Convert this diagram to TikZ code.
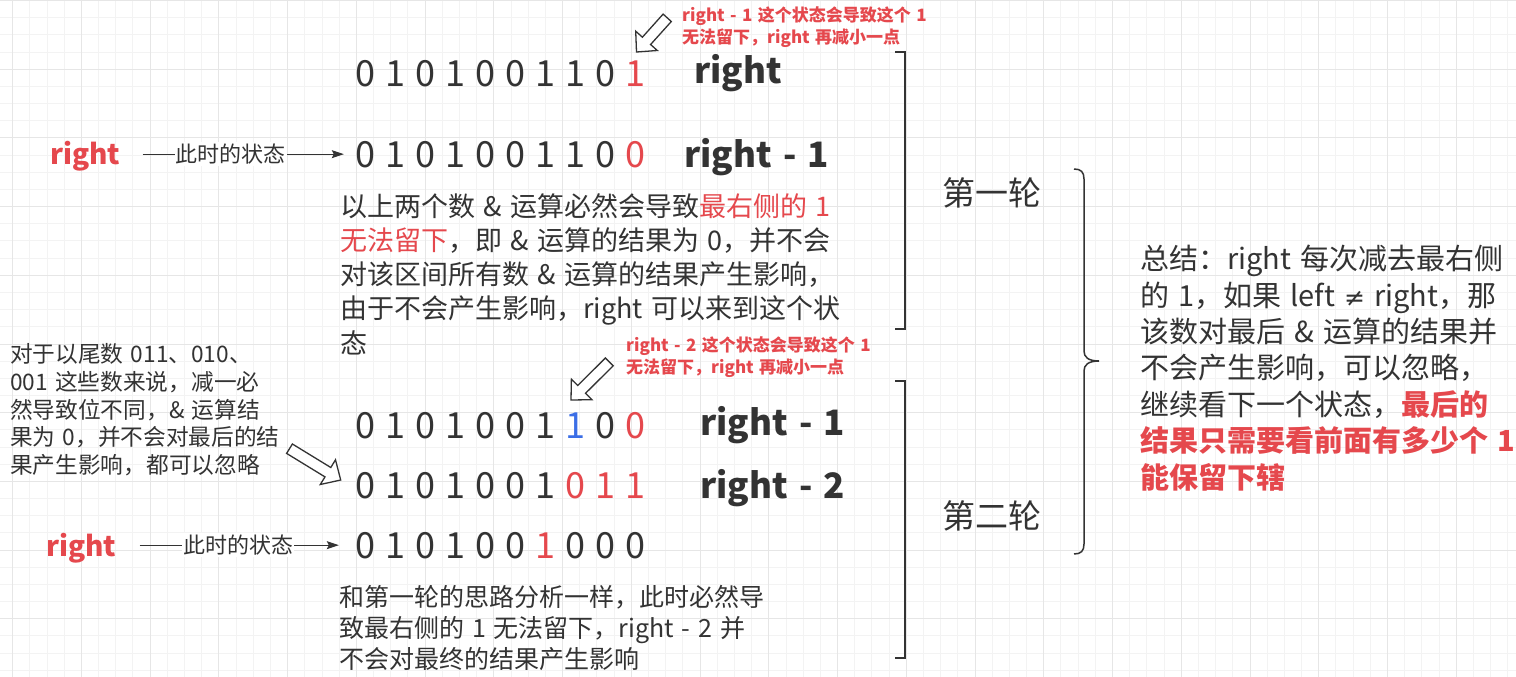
\documentclass[tikz,border=0pt]{standalone}
\usepackage{fontspec}
\setmainfont{Noto Sans CJK SC}[WordSpace=1.4]
\newfontfamily\symfont{DejaVu Sans}
\usepackage{xcolor}
\usetikzlibrary{arrows.meta}

\definecolor{ink}{HTML}{333333}
\definecolor{redtxt}{HTML}{E5484D}
\definecolor{bluetxt}{HTML}{3B6EE6}
\definecolor{gridminor}{HTML}{F3F3F3}
\definecolor{gridmajor}{HTML}{E6E6E6}

\begin{document}
\begin{tikzpicture}[x=1pt, y=-1pt, inner sep=0pt, text=ink,
	bit/.style={anchor=base, font=\fontsize{36}{40}\selectfont},
	tag/.style={anchor=base west, font=\fontsize{35}{40}\selectfont\bfseries},
	redtag/.style={anchor=base west, text=redtxt, font=\fontsize{28}{32}\selectfont\bfseries},
	hint/.style={anchor=north west, align=left, text=redtxt, font=\fontsize{17}{21.3}\selectfont\bfseries},
	note/.style={anchor=north west, align=left},
	lun/.style={anchor=north west, font=\fontsize{33}{38}\selectfont},
	statearrow/.style={draw=ink, line width=1.2pt, -{Stealth[length=12pt, width=8pt, inset=2pt]}},
	statelabel/.style={fill=white, inner ysep=2pt, inner xsep=1pt, font=\fontsize{22}{26}\selectfont},
	hollow/.style={draw=ink, line width=1.3pt, fill=white, line join=miter},
	bracket/.style={draw=ink, line width=1.5pt},
	minorline/.style={draw=gridminor, line width=1pt},
	majorline/.style={draw=gridmajor, line width=1pt}]
	
	\useasboundingbox[fill=white] (0,0) rectangle (1516,677);
	
	% grid
	\foreach \i in {0,...,88} \draw[minorline] ({-4.49+17.185*\i},0) -- ++(0,677);
	\foreach \j in {0,...,39} \draw[minorline] (0,{0.5+17.175*\j}) -- ++(1516,0);
	\foreach \i in {0,...,21} \draw[majorline] ({12.7+68.74*\i},0) -- ++(0,677);
	\foreach \j in {0,...,9} \draw[majorline] (0,{0.5+68.7*\j}) -- ++(1516,0);
	
	% first round
	\foreach \d/\c [count=\i] in {0/ink,1/ink,0/ink,1/ink,0/ink,0/ink,1/ink,1/ink,0/ink,1/redtxt}
		\node[bit, text=\c] (r1-\i) at ({335+30*\i},87) {\d};
	\foreach \d/\c [count=\i] in {0/ink,1/ink,0/ink,1/ink,0/ink,0/ink,1/ink,1/ink,0/ink,0/redtxt}
		\node[bit, text=\c] (r2-\i) at ({335+30*\i},167) {\d};
	
	\node[tag] (tag1) at (694,84) {right};
	\node[tag] (tag2) at (684,167) {right - 1};
	
	\node[hint] (hint1) at (682,7) {right - 1 这个状态会导致这个 1\\无法留下，right 再减小一点};
	\draw[hollow] (636.5,52) -- (657.3,50.5) -- (650.6,44.5) -- (671.3,21.5) -- (663.1,14.1) -- (642.4,37.2) -- (635.7,31.2) -- cycle;
	
	\node[redtag] (righta) at (50,164) {right};
	\draw[statearrow, shorten <=22pt, shorten >=11pt] (righta.east |- r2-1.west) -- node[statelabel, pos=0.47] (statea) {此时的状态} (r2-1.west);
	
	\node[note, font=\fontsize{27}{34.3}\selectfont] (note1) at (340,193) {以上两个数 \& 运算必然会导致\textcolor{redtxt}{最右侧的 1}\\\textcolor{redtxt}{无法留下}，即 \& 运算的结果为 0，并不会\\对该区间所有数 \& 运算的结果产生影响，\\由于不会产生影响，right 可以来到这个状\\态};
	
	% second round
	\foreach \d/\c [count=\i] in {0/ink,1/ink,0/ink,1/ink,0/ink,0/ink,1/ink,1/bluetxt,0/ink,0/redtxt}
		\node[bit, text=\c] (r3-\i) at ({335+30*\i},438) {\d};
	\foreach \d/\c [count=\i] in {0/ink,1/ink,0/ink,1/ink,0/ink,0/ink,1/ink,0/redtxt,1/redtxt,1/redtxt}
		\node[bit, text=\c] (r4-\i) at ({335+30*\i},498) {\d};
	\foreach \d/\c [count=\i] in {0/ink,1/ink,0/ink,1/ink,0/ink,0/ink,1/redtxt,0/ink,0/ink,0/ink}
		\node[bit, text=\c] (r5-\i) at ({335+30*\i},558) {\d};
	
	\node[tag] (tag3) at (700,435) {right - 1};
	\node[tag] (tag4) at (700,498) {right - 2};
	
	\node[hint] (hint2) at (626,337) {right - 2 这个状态会导致这个 1\\无法留下，right 再减小一点};
	\draw[hollow] (571,400) -- (591.9,399.7) -- (585.5,393.3) -- (613.2,365.8) -- (605.4,358.0) -- (577.7,385.5) -- (571.4,379.1) -- cycle;
	
	\node[note, font=\fontsize{22.7}{27.9}\selectfont] (note2) at (10,343) {对于以尾数 011、010、\\001 这些数来说，减一必\\然导致位不同，\& 运算结\\果为 0，并不会对最后的结\\果产生影响，都可以忽略};
	\draw[hollow] (340.7,480) -- (320.3,484.5) -- (325.0,476.9) -- (286.6,453.4) -- (292.4,444.0) -- (330.8,467.5) -- (335.5,459.8) -- cycle;
	
	\node[redtag] (rightb) at (46,556) {right};
	\draw[statearrow, shorten <=23pt, shorten >=16pt] (rightb.east |- r5-1.west) -- node[statelabel, pos=0.51] (stateb) {此时的状态} (r5-1.west);
	
	\node[note, font=\fontsize{25}{30.8}\selectfont] (note3) at (339,585) {和第一轮的思路分析一样，此时必然导\\致最右侧的 1 无法留下，right - 2 并\\不会对最终的结果产生影响};
	
	% brackets
	\draw[bracket] (895,52) -- (905,52) -- (905,329) -- (895,329);
	\draw[bracket] (895,381) -- (905,381) -- (905,658) -- (895,658);
	\node[lun] (lun1) at (942,177) {第一轮};
	\node[lun] (lun2) at (942,500) {第二轮};
	
	\draw[bracket] (1074,169) .. controls (1081,169) and (1084,172) .. (1084,179)
		-- (1084,351) .. controls (1084,357) and (1088,361) .. (1099,361)
		.. controls (1088,361) and (1084,365) .. (1084,371)
		-- (1084,544) .. controls (1084,551) and (1081,554) .. (1074,554);
	
	% summary
	\node[note, font=\fontsize{29}{36.4}\selectfont] (note4) at (1140,245) {总结：right 每次减去最右侧\\的 1，如果 left {\symfont\fontsize{25}{36.4}\selectfont ≠} right，那\\该数对最后 \& 运算的结果并\\不会产生影响，可以忽略，\\继续看下一个状态，\textcolor{redtxt}{\bfseries 最后的}\\\textcolor{redtxt}{\bfseries 结果只需要看前面有多少个 1}\\\textcolor{redtxt}{\bfseries 能保留下辖}};
\end{tikzpicture}
\end{document}
